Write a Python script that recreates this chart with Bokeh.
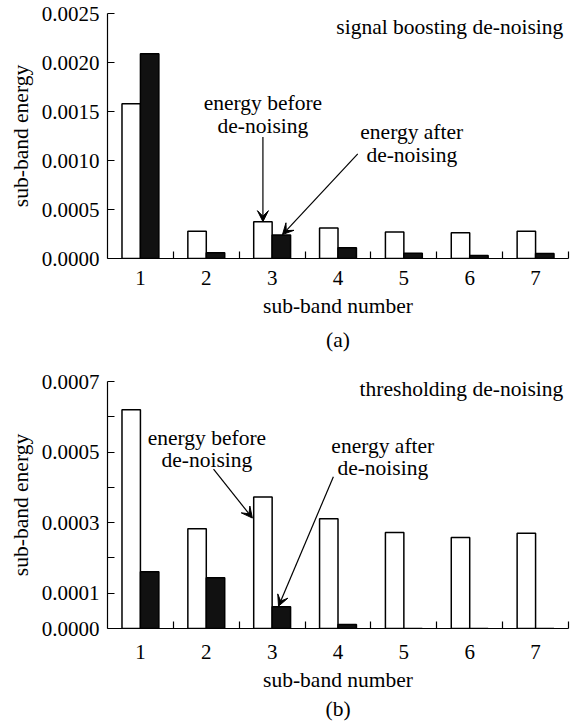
from bokeh.plotting import figure
from bokeh.layouts import column
from bokeh.models import (ColumnDataSource, Range1d, FixedTicker, PrintfTickFormatter,
                          Arrow, VeeHead, Title)
from bokeh.transform import dodge
from bokeh.embed import file_html
from bokeh.resources import INLINE

# ---------------- data ----------------
sub_bands = [1, 2, 3, 4, 5, 6, 7]

# (a) signal boosting de-noising
energy_before_a = [0.00158, 0.000278, 0.000376, 0.000312, 0.000271, 0.000264, 0.000278]
energy_after_a = [0.00209, 0.000058, 0.000240, 0.000109, 0.000054, 0.000030, 0.000051]

# (b) thresholding de-noising
energy_before_b = [0.000620, 0.000283, 0.000373, 0.000311, 0.000272, 0.000258, 0.000270]
energy_after_b = [0.000161, 0.000144, 0.0000613, 0.0000114, 0.0, 0.0, 0.0]

y_ticks_a = [0.0, 0.0005, 0.0010, 0.0015, 0.0020, 0.0025]
y_ticks_b = [0.0, 0.0001, 0.0003, 0.0005, 0.0007]
y_minor_b = [0.0002, 0.0004, 0.0006]
x_boundaries = [1.5, 2.5, 3.5, 4.5, 5.5, 6.5, 7.5]

title_a = "signal boosting de-noising"
title_b = "thresholding de-noising"
caption_a = "(a)"
caption_b = "(b)"
x_label = "sub-band number"
y_label = "sub-band energy"
ann_before = ["energy before", "de-noising"]
ann_after = ["energy after", "de-noising"]

FONT = "Liberation Serif"
FS_TICK = "21px"
FS = "21.5px"
W = 578


def make_panel(before, after, y_max, y_ticks, y_minor, height, top_border,
               frame_h, caption, corner_text, corner_y, anns, arrows,
               tick_standoff, label_standoff, title_standoff):
    p = figure(width=W, height=height, output_backend="svg", toolbar_location=None,
               x_range=Range1d(0.5, 7.5), y_range=Range1d(0, y_max),
               min_border_left=107, min_border_right=10, min_border_top=top_border,
               min_border_bottom=height - top_border - frame_h)
    p.outline_line_color = None
    p.background_fill_color = "white"
    p.border_fill_color = "white"
    p.xgrid.grid_line_color = None
    p.ygrid.grid_line_color = None

    src = ColumnDataSource(dict(x=sub_bands, before=before, after=after))
    p.vbar(x=dodge("x", -0.14, range=p.x_range), top="before", width=0.28, source=src,
           fill_color="white", line_color="black", line_width=1.5)
    p.vbar(x=dodge("x", 0.14, range=p.x_range), top="after", width=0.28, source=src,
           fill_color="#111111", line_color="black", line_width=1.5)

    # x axis
    xa = p.xaxis[0]
    xa.ticker = FixedTicker(ticks=sub_bands, minor_ticks=x_boundaries)
    xa.major_tick_in = 0
    xa.major_tick_out = 0
    xa.minor_tick_in = 7
    xa.minor_tick_out = 0
    xa.minor_tick_line_color = "black"
    xa.minor_tick_line_width = 1.2
    xa.axis_line_color = "black"
    xa.axis_line_width = 1.2
    xa.major_label_text_font = FONT
    xa.major_label_text_font_size = FS_TICK
    xa.major_label_text_color = "black"
    xa.major_label_standoff = tick_standoff
    xa.axis_label = x_label
    xa.axis_label_text_font = FONT
    xa.axis_label_text_font_size = FS
    xa.axis_label_text_font_style = "normal"
    xa.axis_label_text_color = "black"
    xa.axis_label_standoff = label_standoff

    # y axis
    ya = p.yaxis[0]
    ya.ticker = FixedTicker(ticks=y_ticks, minor_ticks=y_minor)
    ya.formatter = PrintfTickFormatter(format="%.4f")
    ya.major_tick_in = 7
    ya.major_tick_out = 0
    ya.minor_tick_in = 7 if y_minor else 0
    ya.minor_tick_out = 0
    ya.major_tick_line_color = "black"
    ya.major_tick_line_width = 1.2
    ya.minor_tick_line_color = "black"
    ya.minor_tick_line_width = 1.2
    ya.axis_line_color = "black"
    ya.axis_line_width = 1.2
    ya.major_label_text_font = FONT
    ya.major_label_text_font_size = FS_TICK
    ya.major_label_text_color = "black"
    ya.major_label_standoff = 8
    ya.axis_label = y_label
    ya.axis_label_text_font = FONT
    ya.axis_label_text_font_size = FS
    ya.axis_label_text_font_style = "normal"
    ya.axis_label_text_color = "black"
    ya.axis_label_standoff = 6

    p.add_layout(Title(text=caption, align="center", text_font=FONT, text_font_size=FS,
                       text_font_style="normal", text_color="black",
                       standoff=title_standoff), "below")

    # corner text
    p.text(x=[7.42], y=[corner_y], text=[corner_text], text_font={"value": FONT},
           text_font_size=FS, text_align="right", text_baseline="middle", text_color="black")

    # annotation texts
    for (tx, ty1, ty2, lines) in anns:
        p.text(x=[tx, tx], y=[ty1, ty2], text=lines, text_font={"value": FONT},
               text_font_size=FS, text_align="center", text_baseline="middle",
               text_color="black")
    for (x0, y0, x1, y1) in arrows:
        p.add_layout(Arrow(end=VeeHead(size=11, fill_color="black", line_color="black"),
                           x_start=x0, y_start=y0, x_end=x1, y_end=y1,
                           line_color="black", line_width=1.2))
    return p


p1 = make_panel(energy_before_a, energy_after_a, 0.0025, y_ticks_a, [], 360, 13, 245,
                caption_a, title_a, 0.00236,
                [(2.86, 0.001585, 0.001352, ann_before),
                 (5.12, 0.001291, 0.001057, ann_after)],
                [(2.86, 0.00124, 2.86, 0.000376),
                 (4.30, 0.001067, 3.157, 0.000244)],
                12, 6, 11)

p2 = make_panel(energy_before_b, energy_after_b, 0.0007, y_ticks_b, y_minor_b, 366, 21, 247,
                caption_b, title_b, 0.000679,
                [(2.01, 0.000540, 0.000478, ann_before),
                 (4.68, 0.000517, 0.000455, ann_after)],
                [(2.11, 0.000452, 2.70, 0.000313),
                 (3.93, 0.000430, 3.097, 0.0000633)],
                16, 6, 0)

layout = column(p1, p2, spacing=0)
open("out.html", "w").write(file_html(layout, INLINE))
